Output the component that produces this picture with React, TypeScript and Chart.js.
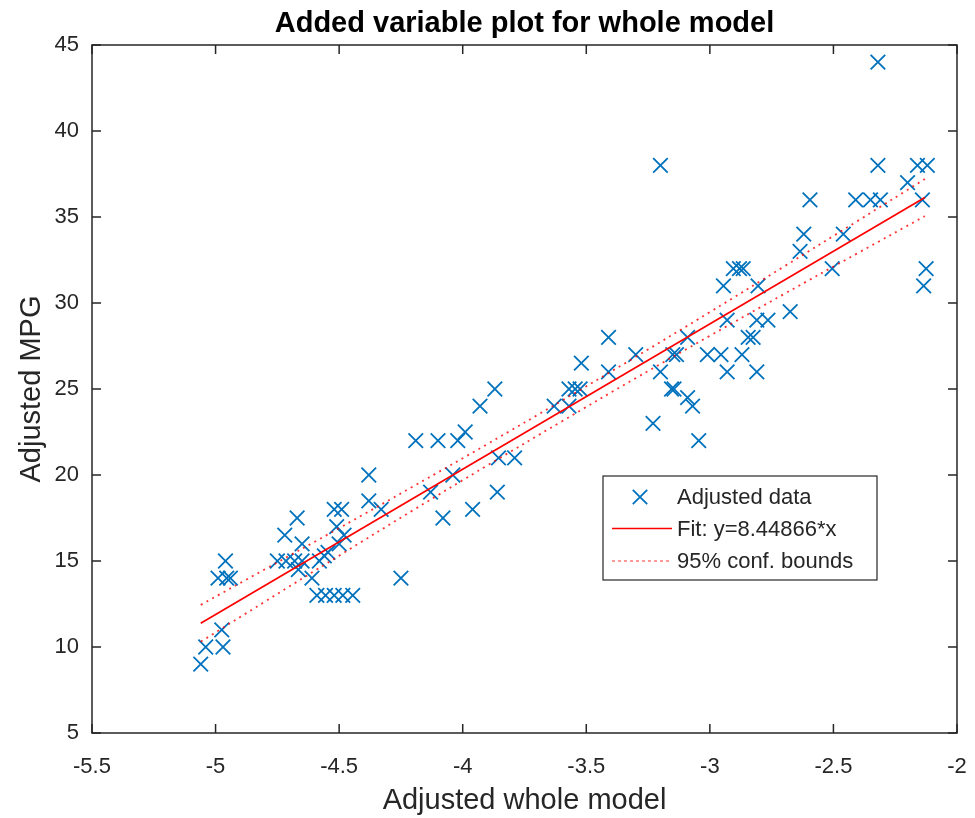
import React, { useEffect, useRef } from 'react';
import { Chart, registerables } from 'chart.js';

Chart.register(...registerables);

// ---- data ----
const dataX = [
  -5.06, -5.04, -4.99, -4.975, -4.97, -4.955, -4.96, -4.94,
  -4.75, -4.72, -4.715, -4.68, -4.67, -4.665, -4.65, -4.65, -4.61,
  -4.59, -4.58, -4.56, -4.555, -4.545, -4.52, -4.52, -4.51, -4.5, -4.49, -4.485, -4.48, -4.445,
  -4.38, -4.38, -4.33, -4.25, -4.19, -4.13, -4.1, -4.08, -4.04, -4.02, -3.99, -3.96,
  -3.93, -3.87, -3.86, -3.855, -3.79,
  -3.63, -3.57, -3.57, -3.545, -3.525, -3.52, -3.41, -3.41, -3.3, -3.23, -3.2, -3.2,
  -3.155, -3.145, -3.15, -3.135, -3.09, -3.09, -3.07, -3.045, -3.01, -2.955, -2.945,
  -2.93, -2.93, -2.905, -2.88, -2.87, -2.865, -2.845, -2.825, -2.81, -2.81, -2.805, -2.765,
  -2.675, -2.635, -2.62, -2.595, -2.505, -2.46, -2.41, -2.35, -2.32, -2.32, -2.31,
  -2.2, -2.16, -2.14, -2.135, -2.125, -2.12,
];
const dataY = [
  9, 10, 14, 11, 10, 14, 15, 14,
  15, 16.5, 15, 15, 17.5, 14.5, 16, 15, 14,
  13, 15, 15.3, 13, 15.5, 13, 18, 17, 16, 18, 13, 16.5, 13,
  20, 18.5, 18, 14, 22, 19, 22, 17.5, 20, 22, 22.5, 18,
  24, 25, 19, 21, 21,
  24, 24, 25, 25, 25, 26.5, 28, 26, 27, 23, 26, 38,
  25, 25, 27, 27, 28, 24.5, 24, 22, 27, 27, 31,
  29, 26, 32, 32, 27, 32, 28, 28, 26, 29, 31, 29,
  29.5, 33, 34, 36, 32, 34, 36, 36, 38, 44, 36,
  37, 38, 36, 31, 32, 38,
];

const fitX = [-5.06, -2.13];
const fitY = [11.38, 36.13];

const boundX = [-5.06, -4.8, -4.5, -4.2, -3.9, -3.6, -3.3, -3.0, -2.7, -2.4, -2.13];
const upperY = [12.45, 14.52, 16.91, 19.34, 21.8, 24.31, 26.87, 29.47, 32.12, 34.79, 37.21];
const lowerY = [10.31, 12.64, 15.31, 17.96, 20.56, 23.11, 25.63, 28.09, 30.52, 32.91, 35.05];

const xTickValues = [-5.5, -5, -4.5, -4, -3.5, -3, -2.5, -2];
const yTickValues = [5, 10, 15, 20, 25, 30, 35, 40, 45];

const titleText = 'Added variable plot for whole model';
const xLabel = 'Adjusted whole model';
const yLabel = 'Adjusted MPG';
const legendLabels = ['Adjusted data', 'Fit: y=8.44866*x', '95% conf. bounds'];

// ---- styles ----
const FONT = '"Liberation Sans", Arial, Helvetica, sans-serif';
const AXIS_COLOR = '#262626';
const BLUE = '#0072BD';
const RED = '#ff0000';
const RED_DOT = 'rgba(255,0,0,0.8)';
const DOT_DASH = [2, 4.5];

const framePlugin = {
  id: 'matlabFrame',
  afterDatasetsDraw(chart: any) {
    const { ctx, chartArea: a, scales } = chart;
    ctx.save();
    ctx.strokeStyle = AXIS_COLOR;
    ctx.lineWidth = 1.5;
    ctx.strokeRect(a.left, a.top, a.right - a.left, a.bottom - a.top);
    const tl = 9;
    ctx.beginPath();
    xTickValues.forEach((v) => {
      const px = scales.x.getPixelForValue(v);
      ctx.moveTo(px, a.bottom);
      ctx.lineTo(px, a.bottom - tl);
      ctx.moveTo(px, a.top);
      ctx.lineTo(px, a.top + tl);
    });
    yTickValues.forEach((v) => {
      const py = scales.y.getPixelForValue(v);
      ctx.moveTo(a.left, py);
      ctx.lineTo(a.left + tl, py);
      ctx.moveTo(a.right, py);
      ctx.lineTo(a.right - tl, py);
    });
    ctx.stroke();
    ctx.restore();
  },
  afterDraw(chart: any) {
    const { ctx, chartArea: a } = chart;
    const left = a.left + 511;
    const top = a.top + 431;
    const w = 274;
    const h = 104;
    ctx.save();
    ctx.fillStyle = '#ffffff';
    ctx.fillRect(left, top, w, h);
    ctx.strokeStyle = AXIS_COLOR;
    ctx.lineWidth = 1.2;
    ctx.strokeRect(left, top, w, h);
    const rows = [top + 21, top + 52.5, top + 85];
    // row 1: marker
    const mx = left + 37;
    const r = 7.2;
    ctx.strokeStyle = BLUE;
    ctx.lineWidth = 1.8;
    ctx.beginPath();
    ctx.moveTo(mx - r, rows[0] - r);
    ctx.lineTo(mx + r, rows[0] + r);
    ctx.moveTo(mx + r, rows[0] - r);
    ctx.lineTo(mx - r, rows[0] + r);
    ctx.stroke();
    // row 2: solid red
    ctx.strokeStyle = RED;
    ctx.lineWidth = 1.6;
    ctx.beginPath();
    ctx.moveTo(left + 9, rows[1]);
    ctx.lineTo(left + 69, rows[1]);
    ctx.stroke();
    // row 3: dotted red
    ctx.strokeStyle = RED_DOT;
    ctx.setLineDash([3, 3]);
    ctx.lineWidth = 1.2;
    ctx.beginPath();
    ctx.moveTo(left + 9, rows[2]);
    ctx.lineTo(left + 69, rows[2]);
    ctx.stroke();
    ctx.setLineDash([]);
    ctx.fillStyle = AXIS_COLOR;
    ctx.font = `22px ${FONT}`;
    ctx.textAlign = 'left';
    ctx.textBaseline = 'middle';
    legendLabels.forEach((t, i) => ctx.fillText(t, left + 74, rows[i] + 1));
    ctx.restore();
  },
};

export default function App() {
  const ref = useRef<HTMLCanvasElement | null>(null);

  useEffect(() => {
    document.body.style.margin = '0';
    const canvas = ref.current;
    if (!canvas) return;
    const chart = new Chart(canvas, {
      type: 'scatter',
      data: {
        datasets: [
          {
            label: legendLabels[0],
            data: dataX.map((x, i) => ({ x, y: dataY[i] })),
            showLine: false,
            pointStyle: 'crossRot',
            pointRadius: 10.3,
            pointHoverRadius: 10.3,
            pointBorderWidth: 1.8,
            pointBorderColor: BLUE,
            pointBackgroundColor: 'rgba(0,0,0,0)',
            borderColor: BLUE,
            order: 3,
          },
          {
            label: legendLabels[1],
            data: fitX.map((x, i) => ({ x, y: fitY[i] })),
            showLine: true,
            borderColor: RED,
            borderWidth: 1.7,
            pointRadius: 0,
            order: 2,
          },
          {
            label: legendLabels[2],
            data: boundX.map((x, i) => ({ x, y: upperY[i] })),
            showLine: true,
            borderColor: RED_DOT,
            borderWidth: 1.8,
            borderDash: DOT_DASH,
            pointRadius: 0,
            tension: 0.4,
            order: 1,
          },
          {
            label: legendLabels[2] + ' (lower)',
            data: boundX.map((x, i) => ({ x, y: lowerY[i] })),
            showLine: true,
            borderColor: RED_DOT,
            borderWidth: 1.8,
            borderDash: DOT_DASH,
            pointRadius: 0,
            tension: 0.4,
            order: 1,
          },
        ],
      },
      options: {
        responsive: false,
        animation: false,
        events: [],
        layout: { padding: { left: 0, right: 18, top: 0, bottom: 0 } },
        plugins: {
          legend: { display: false },
          tooltip: { enabled: false },
          title: {
            display: true,
            text: titleText,
            fullSize: false,
            color: '#000000',
            font: { family: FONT, size: 29, weight: 'bold', lineHeight: 1.2 },
            padding: { top: 6.5, bottom: 3.7 },
          },
        },
        scales: {
          x: {
            type: 'linear',
            position: 'bottom',
            min: -5.5,
            max: -2,
            grid: { display: false, drawTicks: false },
            border: { display: false },
            afterBuildTicks: (s: any) => {
              s.ticks = xTickValues.map((v) => ({ value: v }));
            },
            afterFit: (s: any) => {
              s.height = 85;
              s.paddingRight = 0;
              s.paddingLeft = 0;
            },
            ticks: {
              color: AXIS_COLOR,
              font: { family: FONT, size: 22 },
              padding: 21,
              maxRotation: 0,
              autoSkip: false,
              callback: (v: any) => String(v),
            },
            title: {
              display: true,
              text: xLabel,
              color: AXIS_COLOR,
              font: { family: FONT, size: 29, lineHeight: 1.2 },
              padding: { top: 0, bottom: 0 },
            },
          },
          y: {
            type: 'linear',
            position: 'left',
            min: 5,
            max: 45,
            grid: { display: false, drawTicks: false },
            border: { display: false },
            afterBuildTicks: (s: any) => {
              s.ticks = yTickValues.map((v) => ({ value: v }));
            },
            afterFit: (s: any) => {
              s.width = 92;
              s.paddingTop = 0;
              s.paddingBottom = 0;
            },
            ticks: {
              color: AXIS_COLOR,
              font: { family: FONT, size: 22 },
              padding: 13,
              autoSkip: false,
              callback: (v: any) => String(v),
            },
            title: {
              display: true,
              text: yLabel,
              color: AXIS_COLOR,
              font: { family: FONT, size: 29, lineHeight: 1.2 },
              padding: { top: 15, bottom: 0 },
            },
          },
        },
      },
      plugins: [framePlugin],
    } as any);
    return () => chart.destroy();
  }, []);

  return (
    <div style={{ width: 975, height: 818, position: 'relative' }}>
      <canvas ref={ref} width={975} height={818} style={{ display: 'block', width: 975, height: 818 }} />
    </div>
  );
}
